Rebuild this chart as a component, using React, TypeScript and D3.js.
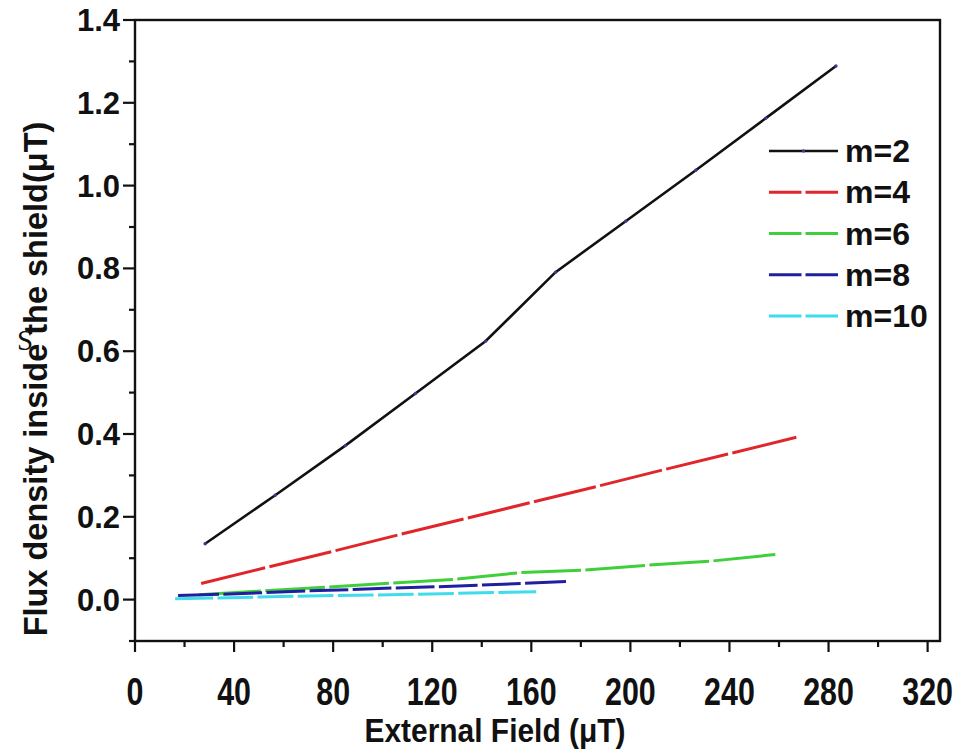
import React from "react";
import * as d3 from "d3";

// External field (μT) and flux density inside the shield (μT) per layer count m
const fieldM2 = [28.3, 56.6, 84.9, 113.2, 141.5, 169.8, 198.1, 226.4, 254.7, 283.0];
const fluxM2 = [0.135, 0.252, 0.372, 0.498, 0.624, 0.791, 0.914, 1.037, 1.163, 1.289];

const fieldM4 = [26.7, 53.4, 80.1, 106.8, 133.5, 160.2, 186.9, 213.6, 240.3, 267.0];
const fluxM4 = [0.039, 0.078, 0.117, 0.157, 0.196, 0.235, 0.274, 0.314, 0.353, 0.392];

const fieldM6 = [25.85, 51.7, 77.55, 103.4, 129.25, 155.1, 180.95, 206.8, 232.65, 258.5];
const fluxM6 = [0.012, 0.021, 0.03, 0.04, 0.049, 0.065, 0.071, 0.083, 0.093, 0.109];

const fieldM8 = [17.4, 34.8, 52.2, 69.6, 87.0, 104.4, 121.8, 139.2, 156.6, 174.0];
const fluxM8 = [0.01, 0.013, 0.017, 0.021, 0.024, 0.028, 0.031, 0.035, 0.039, 0.0435];

const fieldM10 = [16.2, 32.4, 48.6, 64.8, 81.0, 97.2, 113.4, 129.6, 145.8, 162.0];
const fluxM10 = [0.002, 0.004, 0.006, 0.008, 0.01, 0.011, 0.013, 0.015, 0.017, 0.019];

const seriesNames = ["m=2", "m=4", "m=6", "m=8", "m=10"];
const seriesColors = ["#111111", "#e0262b", "#3fcf3a", "#1f1fa0", "#3fdcec"];

const xMajorTicks = [0, 40, 80, 120, 160, 200, 240, 280, 320];
const xMinorTicks = [20, 60, 100, 140, 180, 220, 260, 300];
const yMajorTicks = [0, 0.2, 0.4, 0.6, 0.8, 1.0, 1.2, 1.4];
const yMinorTicks = [-0.1, 0.1, 0.3, 0.5, 0.7, 0.9, 1.1, 1.3];

const W = 969;
const H = 750;
const left = 135;
const right = 940;
const top = 20;
const bottom = 641;

const FONT = "'Liberation Sans', Arial, Helvetica, sans-serif";

export default function App() {
  const x = d3.scaleLinear().domain([0, 325]).range([left, right]);
  const y = d3.scaleLinear().domain([-0.1, 1.4]).range([bottom, top]);

  const series = [
    { xs: fieldM2, ys: fluxM2 },
    { xs: fieldM4, ys: fluxM4 },
    { xs: fieldM6, ys: fluxM6 },
    { xs: fieldM8, ys: fluxM8 },
    { xs: fieldM10, ys: fluxM10 },
  ].map((s, i) => ({
    name: seriesNames[i],
    color: seriesColors[i],
    pts: s.xs.map((v, j) => [v, s.ys[j]] as [number, number]),
  }));

  const line = d3
    .line<[number, number]>()
    .x((d) => x(d[0]))
    .y((d) => y(d[1]));

  // Coloured series: each segment is trimmed at both ends, leaving a small gap at every data point
  const gappedSegments = (pts: [number, number][], gap: number) => {
    const segs: string[] = [];
    for (let i = 0; i < pts.length - 1; i++) {
      const x1 = x(pts[i][0]);
      const y1 = y(pts[i][1]);
      const x2 = x(pts[i + 1][0]);
      const y2 = y(pts[i + 1][1]);
      const len = Math.hypot(x2 - x1, y2 - y1);
      const ux = (x2 - x1) / len;
      const uy = (y2 - y1) / len;
      const a = i === 0 ? 0 : gap;
      const b = i === pts.length - 2 ? 0 : gap;
      segs.push(
        `M${x1 + ux * a},${y1 + uy * a}L${x2 - ux * b},${y2 - uy * b}`
      );
    }
    return segs.join("");
  };

  const drawOrder = [0, 1, 2, 4, 3];
  const legendY0 = 151;
  const legendStep = 41.25;

  return (
    <svg
      width={W}
      height={H}
      style={{ position: "absolute", left: 0, top: 0, background: "#fff" }}
      fontFamily={FONT}
    >
      <rect x={0} y={0} width={W} height={H} fill="#fff" />

      {/* data lines */}
      {drawOrder.map((i) => {
        const s = series[i];
        if (i === 0) {
          return (
            <g key={s.name}>
              <path d={line(s.pts) || ""} fill="none" stroke={s.color} strokeWidth={2.6} />
              {s.pts.map((p, j) => (
                <circle key={j} cx={x(p[0])} cy={y(p[1])} r={1.7} fill="#3a3a9a" />
              ))}
            </g>
          );
        }
        return (
          <path
            key={s.name}
            d={gappedSegments(s.pts, 2.2)}
            fill="none"
            stroke={s.color}
            strokeWidth={3}
          />
        );
      })}

      {/* frame */}
      <rect
        x={left}
        y={top}
        width={right - left}
        height={bottom - top}
        fill="none"
        stroke="#111"
        strokeWidth={2.4}
      />

      {/* x ticks */}
      {xMajorTicks.map((t) => (
        <g key={`xm${t}`}>
          <line x1={x(t)} x2={x(t)} y1={bottom} y2={bottom + 11} stroke="#111" strokeWidth={2.2} />
          <text
            transform={`translate(${x(t)},705) scale(0.8,1)`}
            textAnchor="middle"
            fontSize={38}
            fontWeight="bold"
            fill="#111"
          >
            {t}
          </text>
        </g>
      ))}
      {xMinorTicks.map((t) => (
        <line key={`xn${t}`} x1={x(t)} x2={x(t)} y1={bottom} y2={bottom + 6} stroke="#111" strokeWidth={2.2} />
      ))}

      {/* y ticks */}
      {yMajorTicks.map((t) => (
        <g key={`ym${t}`}>
          <line x1={left - 12} x2={left} y1={y(t)} y2={y(t)} stroke="#111" strokeWidth={2.2} />
          <text
            x={120}
            y={y(t) + 11}
            textAnchor="end"
            fontSize={31}
            fontWeight="bold"
            fill="#111"
          >
            {t.toFixed(1)}
          </text>
        </g>
      ))}
      {yMinorTicks.map((t) => (
        <line key={`yn${t}`} x1={left - 6} x2={left} y1={y(t)} y2={y(t)} stroke="#111" strokeWidth={2.2} />
      ))}

      {/* axis titles */}
      <text
        transform="translate(495,742) scale(0.88,1)"
        textAnchor="middle"
        fontSize={34}
        fontWeight="bold"
        fill="#111"
      >
        External Field (μT)
      </text>
      <text
        transform="translate(47,379) rotate(-90)"
        textAnchor="middle"
        fontSize={32.5}
        fontWeight="bold"
        fill="#111"
      >
        Flux density inside the shield(μT)
      </text>
      <text x={17} y={350} fontFamily="'Liberation Serif', 'Times New Roman', serif" fontSize={29} fill="#111">
        S
      </text>

      {/* legend */}
      {series.map((s, i) => {
        const ly = legendY0 + i * legendStep;
        return (
          <g key={`lg${s.name}`}>
            {i === 0 ? (
              <>
                <line x1={769} x2={838} y1={ly} y2={ly} stroke={s.color} strokeWidth={2.6} />
                <circle cx={803.5} cy={ly} r={1.7} fill="#3a3a9a" />
              </>
            ) : (
              <>
                <line x1={769} x2={801.5} y1={ly} y2={ly} stroke={s.color} strokeWidth={3} />
                <line x1={805.5} x2={838} y1={ly} y2={ly} stroke={s.color} strokeWidth={3} />
              </>
            )}
            <text x={845} y={ly + 11} fontSize={32} fontWeight="bold" fill="#111">
              {s.name}
            </text>
          </g>
        );
      })}
    </svg>
  );
}
